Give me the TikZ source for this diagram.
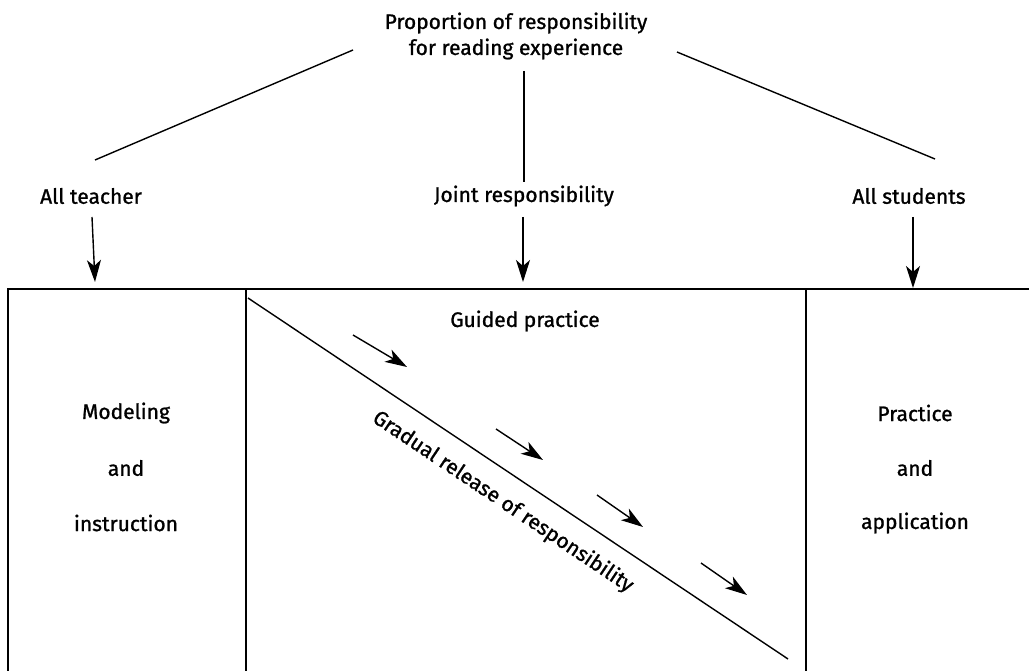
\documentclass[tikz,border=0pt]{standalone}
\usepackage{fontspec}
\setmainfont{Fira Sans}[FakeBold=1.1]
\usetikzlibrary{arrows.meta}
\begin{document}
\begin{tikzpicture}[x=1pt,y=-1pt,
  lbl/.style={inner sep=0pt,font=\fontsize{21}{26}\selectfont},
  thinline/.style={line width=1.4pt},
  boxline/.style={line width=1.7pt},
  arr/.style={line width=1.4pt,-{Stealth[length=22pt,width=14pt,inset=6pt]}}]
\useasboundingbox (0,0) rectangle (1029,671);
% title
\node[lbl,align=center] (title) at (516,36) {Proportion of responsibility\\for reading experience};
% branch lines
\coordinate (tl) at (353,50);
\coordinate (tm) at (524,71);
\coordinate (tr) at (677,52);
\coordinate (bl) at (95,160);
\coordinate (bm) at (524,182);
\coordinate (br) at (935,159);
\draw[thinline] (tl) -- (bl);
\draw[thinline] (tm) -- (bm);
\draw[thinline] (tr) -- (br);
% level labels
\node[lbl] (teacher) at (91,196) {All teacher};
\node[lbl] (joint) at (524,196) {Joint responsibility};
\node[lbl] (students) at (909,196) {All students};
% arrows to box
\coordinate (a1s) at (92,217);
\coordinate (a1e) at (95,282);
\coordinate (a2s) at (523,217);
\coordinate (a2e) at (523,282);
\coordinate (a3s) at (913,217);
\coordinate (a3e) at (913,288);
\draw[arr] (a1s) -- (a1e);
\draw[arr] (a2s) -- (a2e);
\draw[arr] (a3s) -- (a3e);
% box
\coordinate (b0) at (8,289);
\coordinate (b1) at (246,289);
\coordinate (b2) at (806,289);
\coordinate (b3) at (1029,289);
\draw[boxline] (8,671) -- (b0) -- (b3);
\draw[boxline] (b1) -- (246,671);
\draw[boxline] (b2) -- (806,671);
% column texts
\node[lbl] (m1) at (126,413) {Modeling};
\node[lbl] (m2) at (126,468) {and};
\node[lbl] (m3) at (126,523) {instruction};
\node[lbl] (p1) at (915,413) {Practice};
\node[lbl] (p2) at (915,468) {and};
\node[lbl] (p3) at (915,523) {application};
\node[lbl] (guided) at (525,321) {Guided practice};
% diagonal
\coordinate (d0) at (248,298);
\coordinate (d1) at (788,659);
\draw[thinline] (d0) -- (d1);
\node[lbl,rotate=-33.8] (grad) at (503,502) {Gradual release of responsibility};
% small arrows
\coordinate (s1) at (353,335); \coordinate (e1) at (407,367);
\coordinate (s2) at (496,429); \coordinate (e2) at (543,460);
\coordinate (s3) at (597,495); \coordinate (e3) at (643,527);
\coordinate (s4) at (701,563); \coordinate (e4) at (747,595);
\draw[arr] (s1) -- (e1);
\draw[arr] (s2) -- (e2);
\draw[arr] (s3) -- (e3);
\draw[arr] (s4) -- (e4);
\end{tikzpicture}
\end{document}
